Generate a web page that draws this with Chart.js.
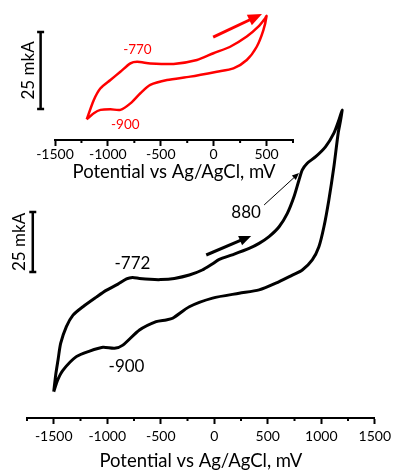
<!DOCTYPE html>
<html>
<head>
<meta charset="utf-8">
<script src="https://cdn.jsdelivr.net/npm/chart.js@4"></script>
<style>
  body { margin: 0; background: #fff; }
  #wrap { position: relative; width: 395px; height: 473px; }
  #wrap canvas { position: absolute; left: 0; top: 0; }
</style>
</head>
<body>
<div id="wrap">
  <canvas id="mainChart" width="395" height="473"></canvas>
  <canvas id="insetChart" width="310" height="185"></canvas>
</div>
<script>
// main CV (black): forward scan -1500 -> 1200 mV, then back
const mainPotential = [-1500, -1482, -1460, -1435, -1382, -1320, -1227, -1102, -1010, -900,
  -820, -764, -700, -600, -500, -373, -233, -112, -19, 47,
  168, 326, 419, 512, 606, 683, 745, 792, 823, 869,
  948, 1041, 1118, 1165, 1195,
  1181, 1158, 1118, 1071, 1025, 978, 916, 823, 730, 575,
  419, 233, -16, -233, -389, -450, -543, -699, -854, -932,
  -1041, -1165, -1289, -1413, -1463, -1500];
const mainCurrent = [-38.2, -31.3, -25.0, -18.0, -11.1, -6.3, -2.8, 1.2, 4.0, 6.6,
  8.8, 9.4, 9.0, 8.6, 8.5, 9.0, 10.4, 12.5, 15.0, 16.9,
  18.8, 21.5, 23.6, 26.4, 30.5, 36.1, 43.0, 50.0, 54.2, 57.0,
  59.7, 63.9, 69.5, 75.0, 79.2,
  75.0, 69.5, 55.5, 41.7, 30.5, 22.2, 16.7, 12.5, 10.4, 7.0,
  4.2, 2.8, 0.8, -2.8, -7.6, -8.3, -9.0, -12.5, -18.8, -20.1,
  -19.7, -21.3, -23.6, -29.2, -33.3, -38.2];

// inset CV (red): -1200 -> 500 mV and back
const insetPotential = [-1200, -1133, -1070, -976, -882, -787, -724, -599, -379, -158,
  -2, 156, 313, 422, 486, 500,
  470, 407, 313, 187, 30, -222, -441, -599, -693, -787,
  -882, -976, -1070, -1133, -1200];
const insetCurrent = [-12.8, -6.5, -2.7, 0, 2.7, 5.4, 5.9, 5.4, 5.2, 6.5,
  8.7, 10.8, 14.1, 17.3, 20.0, 20.8,
  16.2, 10.8, 6.5, 3.8, 2.7, 1.1, 0, -1.6, -4.3, -7.6,
  -9.7, -9.5, -9.7, -10.8, -12.8];

const mainTickLabels = [-1500, -1000, -500, 0, 500, 1000, 1500];
const insetTickLabels = [-1500, -1000, -500, 0, 500];
const scaleBarValue = 25; // mkA

const FONT = 'Lato, "Open Sans", sans-serif';
const RED = '#ff0000';

function toPoints(xs, ys) {
  return xs.map((x, i) => ({ x: x, y: ys[i] }));
}

function px(chart, x, y) {
  return [chart.scales.x.getPixelForValue(x), chart.scales.y.getPixelForValue(y)];
}

function drawArrow(chart, from, to, color, width, head) {
  const ctx = chart.ctx;
  const [x1, y1] = px(chart, from[0], from[1]);
  const [x2, y2] = px(chart, to[0], to[1]);
  const a = Math.atan2(y2 - y1, x2 - x1);
  const c = Math.cos(a), s = Math.sin(a);
  ctx.save();
  ctx.strokeStyle = color;
  ctx.fillStyle = color;
  ctx.lineWidth = width;
  ctx.beginPath();
  ctx.moveTo(x1, y1);
  ctx.lineTo(x2 - c * head * 0.7, y2 - s * head * 0.7);
  ctx.stroke();
  ctx.beginPath();
  ctx.moveTo(x2, y2);
  ctx.lineTo(x2 - head * c + head * 0.42 * s, y2 - head * s - head * 0.42 * c);
  ctx.lineTo(x2 - head * c - head * 0.42 * s, y2 - head * s + head * 0.42 * c);
  ctx.closePath();
  ctx.fill();
  ctx.restore();
}

function drawText(chart, text, x, y, color, size) {
  const ctx = chart.ctx;
  const [tx, ty] = px(chart, x, y);
  ctx.save();
  ctx.fillStyle = color;
  ctx.font = size + 'px ' + FONT;
  ctx.textAlign = 'center';
  ctx.textBaseline = 'middle';
  ctx.fillText(text, tx, ty);
  ctx.restore();
}

// vertical scale bar of 25 mkA, with its rotated label
function drawScaleBar(chart, x, yBottom, labelX, size) {
  const ctx = chart.ctx;
  const [bx, b0] = px(chart, x, yBottom);
  const b1 = chart.scales.y.getPixelForValue(yBottom + scaleBarValue);
  ctx.save();
  ctx.strokeStyle = '#000';
  ctx.lineWidth = 2.5;
  ctx.beginPath();
  ctx.moveTo(bx, b0); ctx.lineTo(bx, b1);
  ctx.moveTo(bx - 3.5, b0); ctx.lineTo(bx + 3.5, b0);
  ctx.moveTo(bx - 3.5, b1); ctx.lineTo(bx + 3.5, b1);
  ctx.stroke();
  const lx = chart.scales.x.getPixelForValue(labelX);
  ctx.translate(lx, (b0 + b1) / 2);
  ctx.rotate(-Math.PI / 2);
  ctx.fillStyle = '#000';
  ctx.font = size + 'px ' + FONT;
  ctx.textAlign = 'center';
  ctx.textBaseline = 'middle';
  ctx.fillText(scaleBarValue + ' mkA', 0, 0);
  ctx.restore();
}

// short minor ticks (major ones are drawn by the axis itself)
function drawMinorTicks(chart, labels, len) {
  const sx = chart.scales.x;
  const ctx = chart.ctx;
  ctx.save();
  ctx.strokeStyle = '#000';
  ctx.lineWidth = 2;
  ctx.beginPath();
  sx.ticks.forEach(t => {
    if (labels.includes(t.value)) return;
    const x = sx.getPixelForValue(t.value);
    ctx.moveTo(x, sx.top);
    ctx.lineTo(x, sx.top + len);
  });
  ctx.stroke();
  ctx.restore();
}

function xAxis(min, max, labels, height, tickPad, titlePad) {
  return {
    type: 'linear',
    min: min,
    max: max,
    afterFit: s => { s.height = height; },
    border: { display: true, color: '#000', width: 2 },
    grid: {
      drawOnChartArea: false,
      drawTicks: true,
      tickLength: 6,
      tickWidth: 2,
      tickColor: c => labels.includes(c.tick.value) ? '#000' : 'rgba(0,0,0,0)'
    },
    ticks: {
      stepSize: 250,
      autoSkip: false,
      maxRotation: 0,
      padding: tickPad,
      color: '#000',
      font: { family: FONT, size: 14 },
      callback: v => labels.includes(v) ? String(v) : ''
    },
    title: {
      display: true,
      text: 'Potential vs Ag/AgCl, mV',
      color: '#000',
      font: { family: FONT, size: 18.5 },
      padding: { top: 0, bottom: titlePad }
    }
  };
}

const mainOverlay = {
  id: 'mainOverlay',
  afterDraw(chart) {
    drawMinorTicks(chart, mainTickLabels, 3);
    drawText(chart, '-772', -764, 15.4, '#000', 17);
    drawText(chart, '-900', -820, -27.9, '#000', 17);
    drawText(chart, '880', 298, 36.3, '#000', 17);
    drawArrow(chart, [466, 39.6], [792, 52.9], '#000', 1, 7);
    drawArrow(chart, [-75, 18.75], [345, 26.7], '#000', 3, 12);
    drawScaleBar(chart, -1696, 11.7, -1817, 17);
  }
};

const insetOverlay = {
  id: 'insetOverlay',
  afterDraw(chart) {
    drawMinorTicks(chart, insetTickLabels, 3);
    drawText(chart, '-770', -721, 9.7, RED, 13.5);
    drawText(chart, '-900', -835, -14.6, RED, 13.5);
    drawArrow(chart, [-5, 13.96], [457, 21.4], RED, 3, 14);
    drawScaleBar(chart, -1636, -9.4, -1749, 17);
  }
};

new Chart(document.getElementById('mainChart'), {
  type: 'scatter',
  data: {
    datasets: [{
      data: toPoints(mainPotential, mainCurrent),
      showLine: true,
      borderColor: '#000',
      borderWidth: 3,
      pointRadius: 0,
      tension: 0.25,
      clip: false
    }]
  },
  options: {
    responsive: false,
    animation: false,
    devicePixelRatio: 1,
    layout: { padding: { left: 27, right: 19, top: 0, bottom: 0 } },
    plugins: { legend: { display: false }, tooltip: { enabled: false } },
    scales: {
      x: xAxis(-1750, 1500, mainTickLabels, 55, 4, 1),
      y: { display: false, min: -49.17, max: 125 }
    }
  },
  plugins: [mainOverlay]
});

new Chart(document.getElementById('insetChart'), {
  type: 'scatter',
  data: {
    datasets: [{
      data: toPoints(insetPotential, insetCurrent),
      showLine: true,
      borderColor: RED,
      borderWidth: 2.5,
      pointRadius: 0,
      tension: 0.25,
      clip: false
    }]
  },
  options: {
    responsive: false,
    animation: false,
    devicePixelRatio: 1,
    layout: { padding: { left: 55, right: 17, top: 0, bottom: 0 } },
    plugins: { legend: { display: false }, tooltip: { enabled: false } },
    scales: {
      x: xAxis(-1500, 750, insetTickLabels, 45, 0, 2),
      y: { display: false, min: -19.48, max: 25.98 }
    }
  },
  plugins: [insetOverlay]
});
</script>
</body>
</html>
